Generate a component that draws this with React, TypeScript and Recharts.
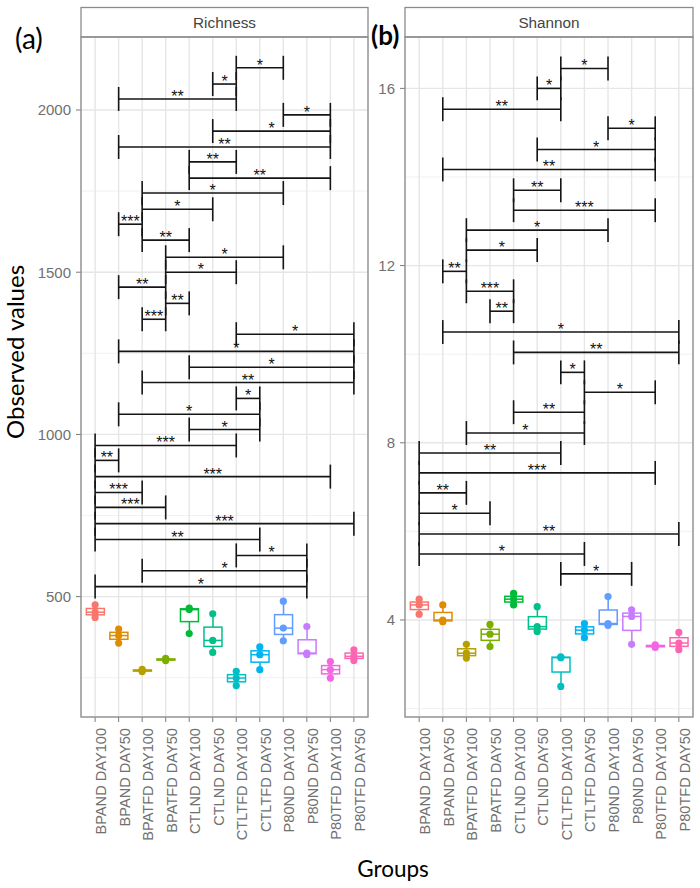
import React from 'react';
import { ComposedChart, Bar, Scatter, XAxis, YAxis, CartesianGrid, ReferenceLine } from 'recharts';

const groups = [
  'BPAND DAY100', 'BPAND DAY50', 'BPATFD DAY100', 'BPATFD DAY50',
  'CTLND DAY100', 'CTLND DAY50', 'CTLTFD DAY100', 'CTLTFD DAY50',
  'P80ND DAY100', 'P80ND DAY50', 'P80TFD DAY100', 'P80TFD DAY50',
];
const groupColors = [
  '#F8766D', '#DE8C00', '#B79F00', '#7CAE00', '#00BA38', '#00C08B',
  '#00BFC4', '#00B4F0', '#619CFF', '#C77CFF', '#F564E3', '#FF64B0',
];

// observed values per group (3 replicates)
const richnessValues: number[][] = [
  [436, 452, 475], [357, 380, 400], [269, 272, 276], [303, 306, 310],
  [386, 460, 465], [328, 365, 447], [226, 249, 270], [275, 321, 345],
  [364, 403, 486], [322, 326, 408], [249, 275, 300], [303, 316, 336],
];
const shannonValues: number[][] = [
  [4.13, 4.34, 4.47], [3.96, 4.0, 4.34], [3.14, 3.25, 3.45], [3.4, 3.68, 3.9],
  [4.34, 4.47, 4.6], [3.74, 3.85, 4.3], [2.5, 3.15, 3.17], [3.6, 3.77, 3.92],
  [3.88, 3.92, 4.53], [3.45, 4.08, 4.23], [3.38, 3.41, 3.44], [3.33, 3.48, 3.72],
];

// significance brackets: [from group, to group, bracket height, label]
const richnessBrackets: [number, number, number, string][] = [
  [6, 8, 2130, '*'], [5, 6, 2080, '*'], [1, 6, 2034, '**'], [8, 10, 1985, '*'],
  [5, 10, 1935, '*'], [1, 10, 1886, '**'], [4, 6, 1840, '**'], [4, 10, 1790, '**'],
  [2, 8, 1744, '*'], [2, 5, 1694, '*'], [1, 2, 1648, '***'], [2, 4, 1599, '**'],
  [3, 8, 1546, '*'], [3, 6, 1500, '*'], [1, 3, 1454, '**'], [3, 4, 1404, '**'],
  [2, 3, 1355, '***'], [6, 11, 1309, '*'], [1, 11, 1256, '*'], [4, 11, 1207, '*'],
  [2, 11, 1160, '**'], [6, 7, 1111, '*'], [1, 7, 1062, '*'], [4, 7, 1015, '*'],
  [0, 6, 966, '***'], [0, 1, 920, '**'], [0, 10, 870, '***'], [0, 2, 821, '***'],
  [0, 3, 775, '***'], [0, 11, 725, '***'], [0, 7, 676, '**'], [6, 9, 627, '*'],
  [2, 9, 580, '*'], [0, 9, 531, '*'],
];
const shannonBrackets: [number, number, number, string][] = [
  [6, 8, 16.45, '*'], [5, 6, 16.0, '*'], [1, 6, 15.53, '**'], [8, 10, 15.1, '*'],
  [5, 10, 14.62, '*'], [1, 10, 14.17, '**'], [4, 6, 13.7, '**'], [4, 10, 13.25, '***'],
  [2, 8, 12.8, '*'], [2, 5, 12.35, '*'], [1, 2, 11.87, '**'], [2, 4, 11.42, '***'],
  [3, 4, 10.97, '**'], [1, 11, 10.5, '*'], [4, 11, 10.04, '**'], [6, 7, 9.59, '*'],
  [7, 10, 9.14, '*'], [4, 7, 8.69, '**'], [2, 7, 8.22, '*'], [0, 6, 7.77, '**'],
  [0, 10, 7.32, '***'], [0, 2, 6.87, '**'], [0, 3, 6.41, '*'], [0, 11, 5.94, '**'],
  [0, 7, 5.49, '*'], [6, 9, 5.04, '*'],
];

const richnessTicks = [500, 1000, 1500, 2000];
const richnessMinor = [250, 750, 1250, 1750];
const shannonTicks = [4, 8, 12, 16];
const shannonMinor = [2, 6, 10, 14];

const SANS = 'Liberation Sans, Arial, sans-serif';
const TITLE = 'Lato, "Open Sans", sans-serif';

function quantile(s: number[], p: number) {
  const h = (s.length - 1) * p;
  const lo = Math.floor(h);
  const hi = Math.ceil(h);
  return s[lo] + (h - lo) * (s[hi] - s[lo]);
}

const BoxShape = (props: any) => {
  const { x, y, width, height, payload } = props;
  if (payload == null) return null;
  const top = Math.min(y, y + height);
  const bot = Math.max(y, y + height);
  const span = payload.max - payload.min || 1;
  const py = (v: number) => bot - ((v - payload.min) / span) * (bot - top);
  const cx = x + width / 2;
  const c = payload.color;
  return (
    <g>
      <line x1={cx} x2={cx} y1={py(payload.max)} y2={py(payload.q3)} stroke={c} strokeWidth={1.5} />
      <line x1={cx} x2={cx} y1={py(payload.q1)} y2={py(payload.min)} stroke={c} strokeWidth={1.5} />
      <rect x={x} y={py(payload.q3)} width={width} height={Math.max(py(payload.q1) - py(payload.q3), 0.5)}
        fill="#ffffff" stroke={c} strokeWidth={1.5} />
      <line x1={x} x2={x + width} y1={py(payload.med)} y2={py(payload.med)} stroke={c} strokeWidth={1.5} />
    </g>
  );
};

const PointShape = (props: any) => {
  const { cx, cy, payload } = props;
  return <circle cx={cx} cy={cy} r={3.6} fill={payload.color} />;
};

const StarShape = (props: any) => {
  const { cx, cy, payload } = props;
  return (
    <text x={cx} y={cy + 3} textAnchor="middle" fontSize={16} fill="#111" fontFamily={SANS}>
      {payload.label}
    </text>
  );
};

const RotTick = (props: any) => {
  const { x, y, payload } = props;
  return (
    <text x={x} y={y} dy={11} transform={`rotate(-90 ${x} ${y})`} textAnchor="end"
      fontSize={14.6} fill="#707070" fontFamily={SANS}>
      {payload.value}
    </text>
  );
};

type PanelProps = {
  values: number[][];
  brackets: [number, number, number, string][];
  domain: [number, number];
  ticks: number[];
  minor: number[];
  tip: number;
  left: number;
  width: number;
  yAxisWidth: number;
  marginRight: number;
};

function Panel({ values, brackets, domain, ticks, minor, tip, left, width, yAxisWidth, marginRight }: PanelProps) {
  const rows = groups.map((g, i) => {
    const s = [...values[i]].sort((a, b) => a - b);
    return {
      group: g,
      min: s[0],
      q1: quantile(s, 0.25),
      med: quantile(s, 0.5),
      q3: quantile(s, 0.75),
      max: s[s.length - 1],
      color: groupColors[i],
    };
  });
  const points = values.flatMap((vals, i) => vals.map((v) => ({ x: i, y: v, color: groupColors[i] })));
  const labels = brackets.map(([a, b, y, l]) => ({ x: (a + b) / 2, y, label: l }));
  const plotW = width - yAxisWidth - marginRight;
  const pad = plotW / 122;
  const lineProps = { xAxisId: 'n', stroke: '#151515', strokeWidth: 1.6, ifOverflow: 'visible' as const };

  return (
    <div style={{ position: 'absolute', left, top: 0 }}>
      <ComposedChart width={width} height={888} data={rows}
        margin={{ top: 37, right: marginRight, bottom: 0, left: 0 }}>
        <CartesianGrid stroke="#EEEEEE" strokeWidth={0.8} vertical={false} horizontalValues={minor} />
        <CartesianGrid stroke="#E6E6E6" strokeWidth={1.4} />
        <XAxis dataKey="group" type="category" height={171} padding={{ left: pad, right: pad }}
          interval={0} tick={<RotTick />} tickSize={5} tickMargin={6} axisLine={false}
          tickLine={{ stroke: '#7a7a7a' }} />
        <XAxis xAxisId="n" dataKey="x" type="number" domain={[-0.6, 11.6]} allowDataOverflow hide />
        <YAxis type="number" domain={domain} ticks={ticks} allowDataOverflow width={yAxisWidth}
          interval={0} axisLine={false} tickSize={5} tickMargin={5} tickLine={{ stroke: '#7a7a7a' }}
          tick={{ fill: '#707070', fontSize: 15, fontFamily: SANS }} />
        <Bar dataKey={(d: any) => [d.min, d.max]} barSize={18} shape={<BoxShape />} isAnimationActive={false} />
        <Scatter xAxisId="n" data={points} dataKey="y" shape={<PointShape />} isAnimationActive={false} />
        {brackets.map(([a, b, y], k) => (
          <ReferenceLine key={`h${k}`} {...lineProps} segment={[{ x: a, y }, { x: b, y }]} />
        ))}
        {brackets.map(([a, , y], k) => (
          <ReferenceLine key={`a${k}`} {...lineProps} segment={[{ x: a, y: y - tip }, { x: a, y: y + tip }]} />
        ))}
        {brackets.map(([, b, y], k) => (
          <ReferenceLine key={`b${k}`} {...lineProps} segment={[{ x: b, y: y - tip }, { x: b, y: y + tip }]} />
        ))}
        <Scatter xAxisId="n" data={labels} dataKey="y" shape={<StarShape />} isAnimationActive={false} />
      </ComposedChart>
    </div>
  );
}

export default function App() {
  return (
    <div style={{ position: 'absolute', left: 0, top: 0, width: 700, height: 888, background: '#fff' }}>
      <Panel values={richnessValues} brackets={richnessBrackets} domain={[129, 2225]}
        ticks={richnessTicks} minor={richnessMinor} tip={37} left={0} width={372} yAxisWidth={81} marginRight={4} />
      <Panel values={shannonValues} brackets={shannonBrackets} domain={[1.81, 17.16]}
        ticks={shannonTicks} minor={shannonMinor} tip={0.27} left={370} width={330} yAxisWidth={35} marginRight={7} />
      <svg width={700} height={888} style={{ position: 'absolute', left: 0, top: 0, pointerEvents: 'none' }}>
        <rect x={81} y={7.5} width={287} height={29.5} fill="#ffffff" stroke="#8c8c8c" strokeWidth={1.3} />
        <rect x={81} y={37} width={287} height={680} fill="none" stroke="#8c8c8c" strokeWidth={1.3} />
        <text x={224.5} y={28} textAnchor="middle" fontSize={15.3} fill="#444" fontFamily={SANS}>Richness</text>
        <rect x={405} y={7.5} width={288} height={29.5} fill="#ffffff" stroke="#8c8c8c" strokeWidth={1.3} />
        <rect x={405} y={37} width={288} height={680} fill="none" stroke="#8c8c8c" strokeWidth={1.3} />
        <text x={549} y={28} textAnchor="middle" fontSize={15.3} fill="#444" fontFamily={SANS}>Shannon</text>
        <text x={15} y={49} fontSize={28} fill="#000" fontFamily={TITLE}>(a)</text>
        <text x={371} y={45} fontSize={26} fontWeight="bold" fill="#000" fontFamily={TITLE}>(b)</text>
        <text x={24} y={352} transform="rotate(-90 24 352)" textAnchor="middle" fontSize={24} fill="#000"
          fontFamily={TITLE}>Observed values</text>
        <text x={393} y={877} textAnchor="middle" fontSize={22.5} fill="#000" fontFamily={TITLE}>Groups</text>
      </svg>
    </div>
  );
}
